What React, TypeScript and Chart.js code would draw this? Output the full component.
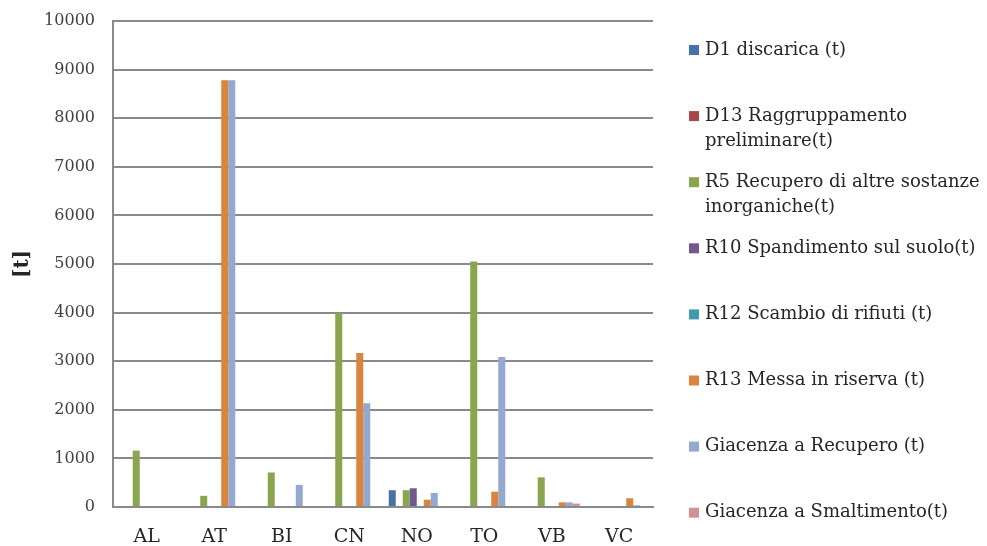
import React, { useEffect, useRef } from 'react';
import { Chart, registerables } from 'chart.js';

Chart.register(...registerables);

const categories = ['AL', 'AT', 'BI', 'CN', 'NO', 'TO', 'VB', 'VC'];
const d1Discarica = [0, 0, 0, 0, 345, 0, 0, 0];
const d13Raggruppamento = [0, 0, 0, 0, 0, 0, 0, 0];
const r5Recupero = [1160, 230, 710, 3990, 345, 5050, 610, 0];
const r10Spandimento = [0, 0, 0, 0, 385, 0, 0, 0];
const r12Scambio = [0, 0, 0, 0, 0, 0, 0, 0];
const r13Messa = [0, 8780, 0, 3170, 150, 315, 95, 180];
const giacenzaRecupero = [0, 8780, 455, 2135, 290, 3085, 95, 35];
const giacenzaSmaltimento = [0, 0, 0, 0, 0, 0, 70, 0];
const yTicks = [0, 1000, 2000, 3000, 4000, 5000, 6000, 7000, 8000, 9000, 10000];

const seriesLabels: string[][] = [
  ['D1 discarica (t)'],
  ['D13 Raggruppamento', 'preliminare(t)'],
  ['R5 Recupero di altre sostanze', 'inorganiche(t)'],
  ['R10 Spandimento sul suolo(t)'],
  ['R12 Scambio di rifiuti (t)'],
  ['R13 Messa in riserva (t)'],
  ['Giacenza a Recupero (t)'],
  ['Giacenza a Smaltimento(t)'],
];
const seriesValues = [
  d1Discarica, d13Raggruppamento, r5Recupero, r10Spandimento,
  r12Scambio, r13Messa, giacenzaRecupero, giacenzaSmaltimento,
];
const seriesColors = ['#4572A7', '#AA4643', '#89A54E', '#71588F', '#4198AF', '#DB843D', '#93A9CF', '#D19392'];

const FONT = "'DejaVu Serif', serif";

const legendPlugin = {
  id: 'sideLegend',
  afterDraw(chart: any) {
    const ctx = chart.ctx;
    ctx.save();
    ctx.font = `18px ${FONT}`;
    ctx.textBaseline = 'middle';
    ctx.textAlign = 'left';
    const x0 = 689;
    const top = 50;
    const step = 66.1;
    chart.data.datasets.forEach((ds: any, i: number) => {
      const y = top + i * step;
      ctx.fillStyle = ds.backgroundColor;
      ctx.fillRect(x0, y - 5, 10, 10);
      ctx.fillStyle = '#262626';
      const lines: string[] = ds.legendLines;
      lines.forEach((ln, j) => ctx.fillText(ln, x0 + 16, y + j * 25));
    });
    ctx.restore();
  },
};

export default function App() {
  const ref = useRef<HTMLCanvasElement>(null);
  useEffect(() => {
    const chart = new Chart(ref.current!, {
      type: 'bar',
      data: {
        labels: categories,
        datasets: seriesValues.map((vals, i) => ({
          label: seriesLabels[i].join(' '),
          legendLines: seriesLabels[i],
          data: vals,
          backgroundColor: seriesColors[i],
          borderWidth: 0,
          barPercentage: 1,
          categoryPercentage: 0.83,
        })) as any,
      },
      options: {
        animation: false,
        responsive: false,
        maintainAspectRatio: false,
        layout: { padding: { left: 0, top: 21, right: 334, bottom: 0 } },
        plugins: { legend: { display: false }, tooltip: { enabled: false } },
        scales: {
          x: {
            grid: { display: false, drawTicks: false },
            border: { display: true, color: '#8a8a8a', width: 2 },
            ticks: { font: { family: FONT, size: 19 }, color: '#262626', padding: 19 },
            afterFit: (s: any) => {
              s.height = 39;
              s.paddingLeft = 0;
              s.paddingRight = 0;
            },
          },
          y: {
            min: 0,
            max: 10000,
            afterBuildTicks: (s: any) => { s.ticks = yTicks.map((v) => ({ value: v })); },
            grid: { color: '#8a8a8a', lineWidth: 2, drawTicks: false },
            border: { display: true, color: '#8a8a8a', width: 2 },
            ticks: {
              font: { family: FONT, size: 16 },
              color: '#404040',
              padding: 18,
              callback: (v: any) => String(v),
            },
            title: {
              display: true,
              text: '[t]',
              font: { family: FONT, size: 20, weight: 'bold' },
              color: '#262626',
              padding: { top: 11, bottom: 0 },
            },
            afterFit: (s: any) => {
              s.width = 113;
              s.paddingTop = 0;
              s.paddingBottom = 0;
            },
          },
        },
      },
      plugins: [legendPlugin],
    });
    return () => chart.destroy();
  }, []);
  return (
    <div style={{ position: 'fixed', left: 0, top: 0, width: 987, height: 546, background: '#fff' }}>
      <canvas ref={ref} width={987} height={546} style={{ width: 987, height: 546 }} />
    </div>
  );
}
